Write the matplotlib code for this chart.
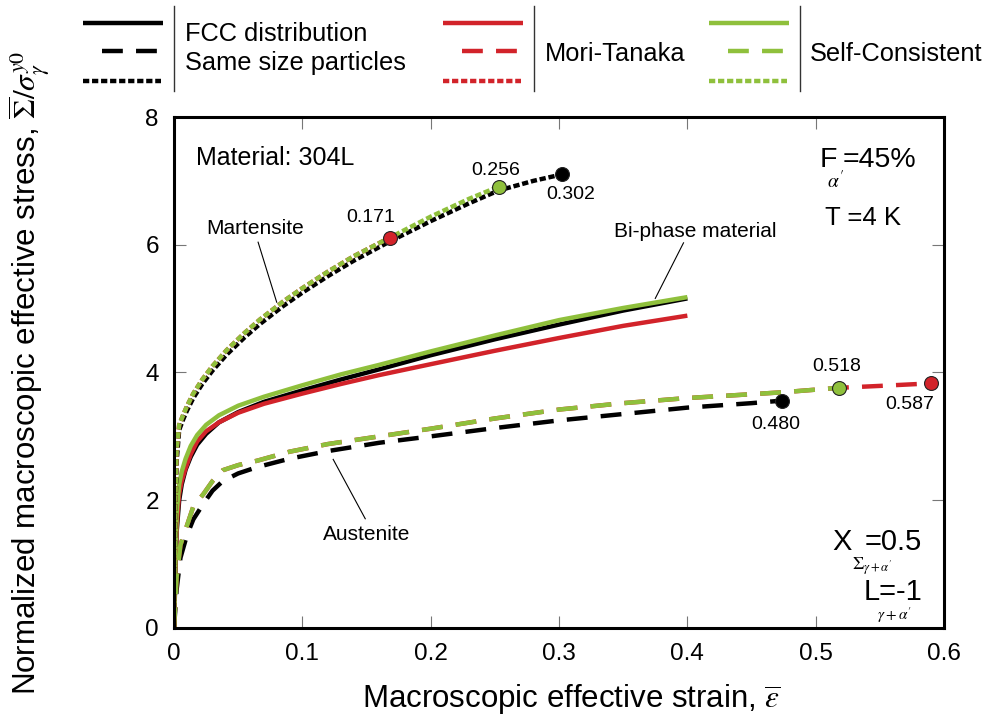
import matplotlib
matplotlib.use("Agg")
import matplotlib.pyplot as plt

plt.rcParams["font.family"] = ["Liberation Sans", "DejaVu Sans"]
plt.rcParams["mathtext.fontset"] = "stix"
plt.rcParams["lines.scale_dashes"] = False

BLACK = "#000000"
RED = "#d2232a"
GREEN = "#8fc03c"

# Bi-phase material (solid lines)
eps_bi = [0, 0.001, 0.002, 0.004, 0.006, 0.009, 0.013, 0.018, 0.025, 0.035, 0.05,
          0.07, 0.1, 0.13, 0.16, 0.2, 0.25, 0.3, 0.35, 0.4]
bi_fcc = [0, 0.8, 1.5, 2.0, 2.25, 2.48, 2.68, 2.87, 3.04, 3.22, 3.38,
          3.54, 3.72, 3.89, 4.05, 4.27, 4.52, 4.75, 4.97, 5.16]
bi_mt = [0, 0.9, 1.6, 2.1, 2.3, 2.5, 2.72, 2.92, 3.08, 3.22, 3.37,
         3.51, 3.67, 3.82, 3.96, 4.13, 4.34, 4.54, 4.73, 4.89]
bi_sc = [0, 1.0, 1.8, 2.25, 2.45, 2.65, 2.85, 3.02, 3.18, 3.33, 3.48,
         3.62, 3.80, 3.97, 4.12, 4.33, 4.58, 4.82, 5.01, 5.18]

# Martensite (dotted lines)
eps_mart = [0, 0.0005, 0.001, 0.002, 0.004, 0.007, 0.01, 0.015, 0.022, 0.03, 0.041,
            0.055, 0.067, 0.085, 0.1, 0.12, 0.14, 0.168, 0.2, 0.23, 0.253, 0.28, 0.302]
mart_fcc = [0, 0.8, 1.8, 2.6, 3.1, 3.26, 3.4, 3.6, 3.82, 4.03, 4.28,
            4.55, 4.76, 5.04, 5.25, 5.51, 5.75, 6.05, 6.37, 6.65, 6.85, 7.0, 7.1]
mart_sc = [0, 1.0, 2.0, 2.8, 3.18, 3.33, 3.47, 3.67, 3.89, 4.1, 4.35,
           4.62, 4.83, 5.11, 5.32, 5.58, 5.82, 6.11, 6.44, 6.72, 6.91]
mart_mt = mart_sc[:18]

# Austenite (dashed lines)
eps_aus = [0, 0.002, 0.005, 0.01, 0.015, 0.023, 0.03, 0.038, 0.05, 0.065, 0.09,
           0.12, 0.16, 0.2, 0.25, 0.3, 0.35, 0.4, 0.45, 0.474, 0.518, 0.55, 0.59]
aus_fcc = [0, 0.6, 1.1, 1.45, 1.7, 1.95, 2.15, 2.3, 2.42, 2.52, 2.65,
           2.77, 2.9, 3.0, 3.13, 3.25, 3.35, 3.45, 3.52, 3.56]
aus_sc = [0, 0.8, 1.3, 1.6, 1.9, 2.1, 2.3, 2.47, 2.55, 2.62, 2.76,
          2.88, 3.0, 3.12, 3.28, 3.42, 3.52, 3.6, 3.66, 3.69, 3.76]
aus_mt = aus_sc + [3.79, 3.83]

DOT = (0, (4.5, 2.0))
DASH = (0, (15, 9.5))
LW = 3.2

fig = plt.figure(figsize=(9.85, 7.2), dpi=100)
ax = fig.add_axes([0.1767, 0.1278, 0.7817, 0.7097])

kw = dict(lw=LW, solid_capstyle="butt", dash_capstyle="butt")
ax.plot(eps_bi, bi_fcc, color=BLACK, **kw)
ax.plot(eps_bi, bi_mt, color=RED, **kw)
ax.plot(eps_bi, bi_sc, color=GREEN, **kw)

ax.plot(eps_mart, mart_fcc, color=BLACK, ls=DOT, **kw)
ax.plot(eps_mart[:len(mart_mt)], mart_mt, color=RED, ls=DOT, **kw)
ax.plot(eps_mart[:len(mart_sc)], mart_sc, color=GREEN, ls=DOT, **kw)

ax.plot(eps_aus[:len(aus_fcc)], aus_fcc, color=BLACK, ls=DASH, **kw)
ax.plot(eps_aus, aus_mt, color=RED, ls=DASH, **kw)
ax.plot(eps_aus[:len(aus_sc)], aus_sc, color=GREEN, ls=DASH, **kw)

# end points (failure)
mk = dict(ms=10, mec="#222222", mew=0.8, zorder=5)
ax.plot(eps_mart[len(mart_mt) - 1], mart_mt[-1], "o", color=RED, **mk)
ax.plot(eps_mart[len(mart_sc) - 1], mart_sc[-1], "o", color=GREEN, **mk)
ax.plot(eps_mart[-1], mart_fcc[-1], "o", color=BLACK, **mk)
ax.plot(eps_aus[len(aus_fcc) - 1], aus_fcc[-1], "o", color=BLACK, **mk)
ax.plot(eps_aus[len(aus_sc) - 1], aus_sc[-1], "o", color=GREEN, **mk)
ax.plot(eps_aus[-1], aus_mt[-1], "o", color=RED, **mk)

nf = 14
ax.text(0.153, 6.42, "0.171", fontsize=nf, ha="center", va="center")
ax.text(0.2505, 7.17, "0.256", fontsize=nf, ha="center", va="center")
ax.text(0.309, 6.79, "0.302", fontsize=nf, ha="center", va="center")
ax.text(0.516, 4.10, "0.518", fontsize=nf, ha="center", va="center")
ax.text(0.5735, 3.50, "0.587", fontsize=nf, ha="center", va="center")
ax.text(0.469, 3.18, "0.480", fontsize=nf, ha="center", va="center")

ax.text(0.017, 7.36, "Material: 304L", fontsize=18, ha="left", va="center")
ax.text(0.063, 6.26, "Martensite", fontsize=15, ha="center", va="center")
ax.plot([0.0655, 0.080], [6.04, 5.10], color=BLACK, lw=0.8)
ax.text(0.406, 6.21, "Bi-phase material", fontsize=15, ha="center", va="center")
ax.plot([0.397, 0.375], [6.03, 5.16], color=BLACK, lw=0.8)
ax.text(0.150, 1.46, "Austenite", fontsize=15, ha="center", va="center")
ax.plot([0.124, 0.149], [2.64, 1.71], color=BLACK, lw=0.8)

ax.text(0.5034, 7.21, "F", fontsize=20.5, va="baseline")
ax.text(0.5206, 7.21, "=45%", fontsize=20.5, va="baseline")
ax.text(0.509, 6.88, r"$\alpha'$", fontsize=14, va="baseline")
ax.text(0.507, 6.31, "T =4 K", fontsize=18.5, va="baseline")

ax.text(0.5127, 1.22, "X", fontsize=21, va="baseline")
ax.text(0.5385, 1.22, "=0.5", fontsize=21, va="baseline")
ax.text(0.528, 0.91, r"$\Sigma_{\gamma+\alpha'}$", fontsize=13, va="baseline")
ax.text(0.537, 0.44, "L=-1", fontsize=21, va="baseline")
ax.text(0.548, 0.13, r"$\gamma+\alpha'$", fontsize=11, va="baseline")

ax.set_xlim(0, 0.6)
ax.set_ylim(0, 8)
ax.set_xticks([0, 0.1, 0.2, 0.3, 0.4, 0.5, 0.6])
ax.set_xticklabels(["0", "0.1", "0.2", "0.3", "0.4", "0.5", "0.6"])
ax.set_yticks([0, 2, 4, 6, 8])
ax.tick_params(direction="in", length=8.5, width=0.8, color="#777777",
               top=True, right=True, labelsize=17.5, pad=11)
for sp in ax.spines.values():
    sp.set_linewidth(2.2)

ax.set_xlabel(r"Macroscopic effective strain, $\overline{\varepsilon}$", fontsize=22.5)
ax.xaxis.set_label_coords(0.516, -0.105)
ax.set_ylabel(r"Normalized macroscopic effective stress, $\overline{\Sigma}/\sigma_{\gamma}^{y0}$",
              fontsize=22.5)
ax.yaxis.set_label_coords(-0.158, 0.5)

# legend drawn by hand (pixel units, y downwards)
lg = fig.add_axes([0, 0.86, 1, 0.14])
lg.set_xlim(0, 985)
lg.set_ylim(100.8, 0)
lg.axis("off")
groups = [(83, BLACK), (443, RED), (709, GREEN)]
for x0, c in groups:
    lg.plot([x0, x0 + 80], [23, 23], color=c, lw=LW, solid_capstyle="butt")
    lg.plot([x0 + 19, x0 + 74], [51, 51], color=c, lw=LW, ls=DASH, dash_capstyle="butt")
    lg.plot([x0, x0 + 78], [81, 81], color=c, lw=LW, ls=DOT, dash_capstyle="butt")
    lg.plot([x0 + 91, x0 + 91], [6, 91], color="#333333", lw=1.0)
lg.text(185, 34, "FCC distribution", fontsize=18.3, va="center")
lg.text(185, 63, "Same size particles", fontsize=18.3, va="center")
lg.text(545, 54, "Mori-Tanaka", fontsize=18.3, va="center")
lg.text(810, 54, "Self-Consistent", fontsize=18.3, va="center")

fig.savefig("out.png", dpi=100)
